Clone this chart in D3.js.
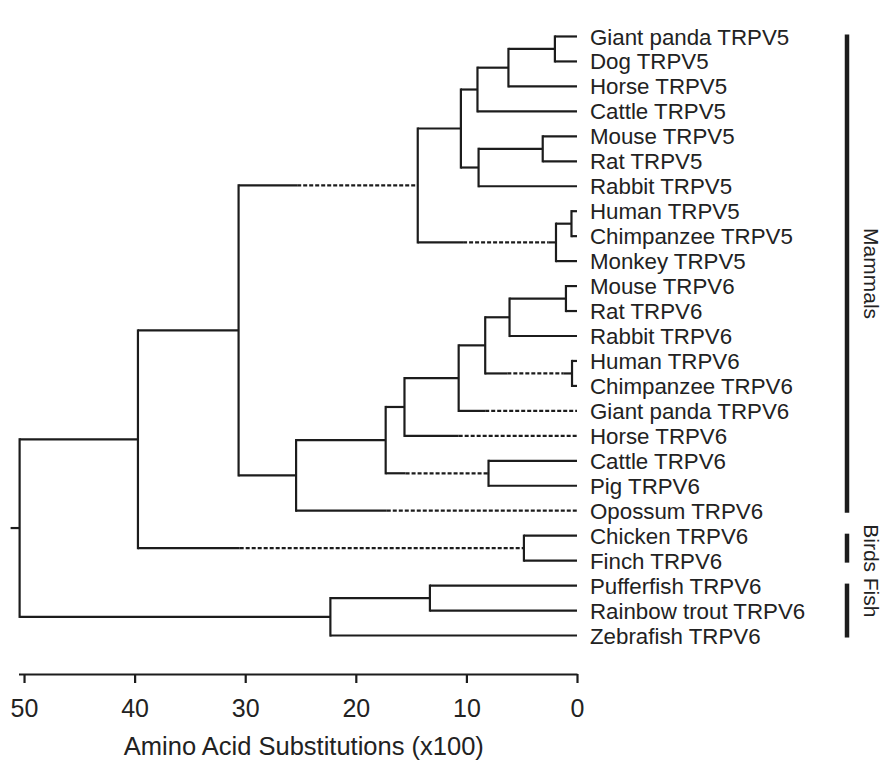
<!DOCTYPE html>
<html>
<head>
<meta charset="utf-8">
<script src="https://cdn.jsdelivr.net/npm/d3@7"></script>
<style>
  body { margin: 0; background: #fff; }
  text { font-family: "Liberation Sans", Arial, Helvetica, sans-serif; fill: #222; }
</style>
</head>
<body>
<div id="b1"></div>
<script>
// leaves, top to bottom
const leafNames = [
    "Giant panda TRPV5", "Dog TRPV5", "Horse TRPV5", "Cattle TRPV5",
    "Mouse TRPV5", "Rat TRPV5", "Rabbit TRPV5",
    "Human TRPV5", "Chimpanzee TRPV5", "Monkey TRPV5",
    "Mouse TRPV6", "Rat TRPV6", "Rabbit TRPV6",
    "Human TRPV6", "Chimpanzee TRPV6", "Giant panda TRPV6",
    "Horse TRPV6", "Cattle TRPV6", "Pig TRPV6", "Opossum TRPV6",
    "Chicken TRPV6", "Finch TRPV6",
    "Pufferfish TRPV6", "Rainbow trout TRPV6", "Zebrafish TRPV6"
];

// internal nodes: id, height (amino acid substitutions x100), children
const innerNodes = [
    ["root", 50.4, ["n40", "fish"]],
    ["n40", 39.7, ["n30", "birds"]],
    ["n30", 30.6, ["v5", "opo"]],
    ["v5", 14.4, ["v5a", "prim5"]],
    ["v5a", 10.5, ["carn5", "rod5"]],
    ["carn5", 9.0, ["hor5", "Cattle TRPV5"]],
    ["hor5", 6.2, ["pd5", "Horse TRPV5"]],
    ["pd5", 2.0, ["Giant panda TRPV5", "Dog TRPV5"]],
    ["rod5", 8.9, ["mr5", "Rabbit TRPV5"]],
    ["mr5", 3.1, ["Mouse TRPV5", "Rat TRPV5"]],
    ["prim5", 1.9, ["hc5", "Monkey TRPV5"]],
    ["hc5", 0.5, ["Human TRPV5", "Chimpanzee TRPV5"]],
    ["opo", 25.4, ["plac6", "Opossum TRPV6"]],
    ["plac6", 17.3, ["hor6", "cp6"]],
    ["hor6", 15.6, ["pan6", "Horse TRPV6"]],
    ["pan6", 10.7, ["rp6", "Giant panda TRPV6"]],
    ["rp6", 8.3, ["rod6", "hc6"]],
    ["rod6", 6.1, ["mr6", "Rabbit TRPV6"]],
    ["mr6", 1.0, ["Mouse TRPV6", "Rat TRPV6"]],
    ["hc6", 0.45, ["Human TRPV6", "Chimpanzee TRPV6"]],
    ["cp6", 8.0, ["Cattle TRPV6", "Pig TRPV6"]],
    ["birds", 4.8, ["Chicken TRPV6", "Finch TRPV6"]],
    ["fish", 22.3, ["pt", "Zebrafish TRPV6"]],
    ["pt", 13.3, ["Pufferfish TRPV6", "Rainbow trout TRPV6"]]
];

// branches drawn broken (dashed) between these two heights
const brokenBranches = [
    ["v5", 25.3, 14.4],
    ["prim5", 10.3, 2.6],
    ["hc6", 6.3, 1.2],
    ["Giant panda TRPV6", 8.3, 0],
    ["Horse TRPV6", 10.7, 0],
    ["cp6", 15.5, 8.1],
    ["Opossum TRPV6", 17.2, 0],
    ["birds", 30.5, 4.8]
];

// clades on the right: label, first leaf, last leaf
const clades = [
    ["Mammals", "Giant panda TRPV5", "Opossum TRPV6"],
    ["Birds", "Chicken TRPV6", "Finch TRPV6"],
    ["Fish", "Pufferfish TRPV6", "Zebrafish TRPV6"]
];

const tickValues = [50, 40, 30, 20, 10, 0];
const axisTitle = "Amino Acid Substitutions (x100)";

const width = 884;
const height = 763;
const top0 = 24;
const rowStep = 26;

const chart = () => {
    const svg = d3.create("svg")
        .attr("width", width)
        .attr("height", height)
        .attr("viewBox", [0, 0, width, height])
    ;

    // table for stratify
    const rows = [{id: "root", parentId: null, h: innerNodes[0][1]}];
    innerNodes.forEach(([id, h, kids]) => {
        kids.forEach(k => {
            const inner = innerNodes.find(n => n[0] === k);
            rows.push({id: k, parentId: id, h: inner ? inner[1] : 0});
        });
    });

    const root = d3.stratify()
        .id(d => d.id)
        .parentId(d => d.parentId)(rows)
    ;

    // even leaf spacing, parents at the middle of children
    d3.cluster()
        .size([rowStep * (leafNames.length - 1), 1])
        .separation(() => 1)(root)
    ;

    const x = d3.scaleLinear()
        .domain([50.5, 0])
        .range([18.5, 577])
    ;
    const y = v => top0 + v;

    const broken = new Map(brokenBranches.map(d => [d[0], d.slice(1)]));
    const ink = "#1c1c1c";

    const g = svg.append("g")
        .attr("fill", "none")
        .attr("stroke", ink)
        .attr("stroke-width", 2.2)
    ;

    // vertical bars of internal nodes
    g.selectAll("line.v")
        .data(root.descendants().filter(d => d.children))
        .join("line")
            .attr("class", "v")
            .attr("x1", d => x(d.data.h))
            .attr("x2", d => x(d.data.h))
            .attr("y1", d => y(d.children[0].x) - 1.1)
            .attr("y2", d => y(d.children[d.children.length - 1].x) + 1.1)
    ;

    // horizontal branches, split into solid and dashed parts
    const segs = [];
    root.descendants().filter(d => d.parent).forEach(d => {
        const h0 = d.parent.data.h, h1 = d.data.h;
        const b = broken.get(d.id);
        if (b) {
            segs.push({a: h0, b: b[0], yy: d.x, dash: false});
            segs.push({a: b[0], b: b[1], yy: d.x, dash: true});
            if (b[1] > h1) segs.push({a: b[1], b: h1, yy: d.x, dash: false});
        } else {
            segs.push({a: h0, b: h1, yy: d.x, dash: false});
        }
    });

    g.selectAll("line.h")
        .data(segs)
        .join("line")
            .attr("class", "h")
            .attr("x1", d => x(d.a))
            .attr("x2", d => x(d.b))
            .attr("y1", d => y(d.yy))
            .attr("y2", d => y(d.yy))
            .attr("stroke-dasharray", d => d.dash ? "4,2" : null)
    ;

    // root stub
    g.append("line")
        .attr("x1", x(root.data.h) - 9)
        .attr("x2", x(root.data.h))
        .attr("y1", y(root.x))
        .attr("y2", y(root.x))
    ;

    // leaf labels
    const leaves = root.leaves();
    const leafY = new Map(leaves.map(d => [d.id, y(d.x)]));
    svg.append("g")
        .selectAll("text")
        .data(leaves)
        .join("text")
            .attr("x", x(0) + 13)
            .attr("y", d => y(d.x))
            .attr("dy", "0.36em")
            .attr("font-size", 22.3)
            .text(d => d.id)
    ;

    // clade bars and labels ("Fish" sits a bit higher than its bar centre)
    const labelShift = {Fish: -13};
    const cg = svg.append("g");
    clades.forEach(c => {
        const y1 = leafY.get(c[1]) - 2;
        const y2 = leafY.get(c[2]) + 2;
        cg.append("line")
            .attr("x1", 847).attr("x2", 847)
            .attr("y1", y1).attr("y2", y2)
            .attr("stroke", ink)
            .attr("stroke-width", 4.5)
        ;
        cg.append("text")
            .attr("transform", `translate(864,${(y1 + y2) / 2 + (labelShift[c[0]] || 0)}) rotate(90)`)
            .attr("text-anchor", "middle")
            .attr("font-size", 21)
            .text(c[0])
        ;
    });

    // axis
    const ax = svg.append("g")
        .attr("transform", "translate(0,674)")
        .call(d3.axisBottom(x)
            .tickValues(tickValues)
            .tickSize(9)
            .tickSizeOuter(0)
            .tickPadding(16))
    ;
    ax.select(".domain").attr("stroke", ink).attr("stroke-width", 2.2);
    ax.selectAll(".tick line").attr("stroke", ink).attr("stroke-width", 2.2);
    ax.selectAll(".tick text")
        .attr("font-size", 25)
        .attr("font-family", "Liberation Sans, Arial, sans-serif")
        .attr("fill", "#222")
    ;

    svg.append("text")
        .attr("x", x(24.7))
        .attr("y", 755)
        .attr("text-anchor", "middle")
        .attr("font-size", 25.5)
        .text(axisTitle)
    ;

    return svg.node();
};

svg = chart();
document.getElementById("b1")
    .append(svg);
</script>
</body>
</html>
